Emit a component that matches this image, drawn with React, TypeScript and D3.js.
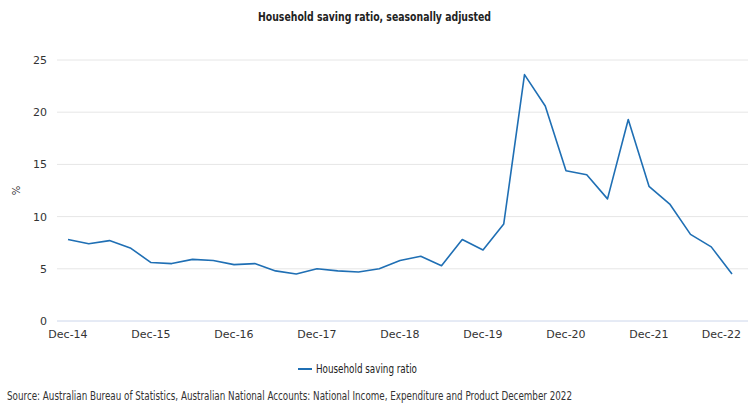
import React from "react";
import * as d3 from "d3";

const categories: string[] = [
  "Dec-14","Mar-15","Jun-15","Sep-15","Dec-15","Mar-16","Jun-16","Sep-16",
  "Dec-16","Mar-17","Jun-17","Sep-17","Dec-17","Mar-18","Jun-18","Sep-18",
  "Dec-18","Mar-19","Jun-19","Sep-19","Dec-19","Mar-20","Jun-20","Sep-20",
  "Dec-20","Mar-21","Jun-21","Sep-21","Dec-21","Mar-22","Jun-22","Sep-22","Dec-22",
];
const savingRatio: number[] = [
  7.8, 7.4, 7.7, 7.0, 5.6, 5.5, 5.9, 5.8,
  5.4, 5.5, 4.8, 4.5, 5.0, 4.8, 4.7, 5.0,
  5.8, 6.2, 5.3, 7.8, 6.8, 9.3, 23.6, 20.6,
  14.4, 14.0, 11.7, 19.3, 12.9, 11.2, 8.3, 7.1, 4.5,
];
const xTickLabels: string[] = ["Dec-14","Dec-15","Dec-16","Dec-17","Dec-18","Dec-19","Dec-20","Dec-21","Dec-22"];
const yTicks: number[] = [0, 5, 10, 15, 20, 25];

const W = 750, H = 416;
const narrow = "'DejaVu Sans Condensed', 'Liberation Sans', sans-serif";
const axisFont = "'DejaVu Sans', sans-serif";

export default function App() {
  const x = d3.scalePoint<string>().domain(categories).range([68, 732]);
  const y = d3.scaleLinear().domain([0, 25]).range([321, 60]);
  const line = d3.line<number>().x((_, i) => x(categories[i])!).y((d) => y(d));
  return (
    <svg width={W} height={H} style={{ position: "absolute", left: 0, top: 0, background: "#fff" }}>
      <text x={258} y={21} fontFamily={narrow} fontSize={13} fontWeight={600} fill="#222"
        textLength={233} lengthAdjust="spacingAndGlyphs">
        Household saving ratio, seasonally adjusted
      </text>
      {yTicks.map((t) => (
        <g key={t}>
          {t !== 0 && <line x1={57} x2={748} y1={y(t)} y2={y(t)} stroke="#e6e6e6" strokeWidth={1} />}
          <text x={47} y={y(t) + 4} textAnchor="end" fontFamily={axisFont} fontSize={11} fill="#333">{t}</text>
        </g>
      ))}
      <line x1={57} x2={748} y1={y(0)} y2={y(0)} stroke="#ccd6eb" strokeWidth={1} />
      <text transform={`translate(20,${(y(0) + y(25)) / 2}) rotate(-90)`} textAnchor="middle" fontFamily={axisFont} fontSize={10} fill="#333">%</text>
      {xTickLabels.map((t, i) => {
        const last = i === xTickLabels.length - 1;
        return (
          <text key={t} x={last ? 741 : x(t)} y={338} textAnchor={last ? "end" : "middle"}
            fontFamily={axisFont} fontSize={11} fill="#333">{t}</text>
        );
      })}
      <path d={line(savingRatio)!} fill="none" stroke="#1f6fb4" strokeWidth={1.6} strokeLinejoin="round" />
      <line x1={298} x2={312} y1={369} y2={369} stroke="#1f6fb4" strokeWidth={2} />
      <text x={316} y={373} fontFamily={narrow} fontSize={12} fill="#222"
        textLength={101} lengthAdjust="spacingAndGlyphs">Household saving ratio</text>
      <text x={7} y={400} fontFamily={narrow} fontSize={11.5} fill="#333"
        textLength={565} lengthAdjust="spacingAndGlyphs">
        Source: Australian Bureau of Statistics, Australian National Accounts: National Income, Expenditure and Product December 2022
      </text>
    </svg>
  );
}
